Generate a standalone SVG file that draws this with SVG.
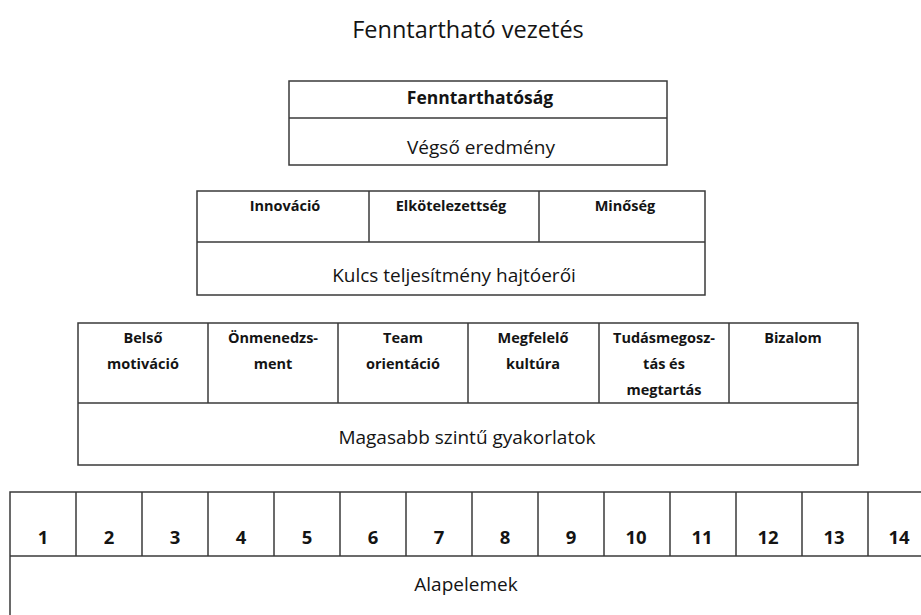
<svg xmlns="http://www.w3.org/2000/svg" width="921" height="615" viewBox="0 0 921 615">
<style>
  .box{fill:#ffffff;stroke:#3a3a3a;stroke-width:1.5}
  .ln{stroke:#3a3a3a;stroke-width:1.5;fill:none}
  text{font-family:"Open Sans","Noto Sans","Liberation Sans",sans-serif;fill:#141414;text-anchor:middle}
  .t{font-size:23.5px}
  .r{font-size:19px}
  .b{font-size:17.5px;font-weight:bold}
  .s{font-size:14.5px;font-weight:bold}
  .n{font-size:18.5px;font-weight:bold}
</style>
<rect width="921" height="615" fill="#ffffff"/>
<g id="title"><text class="t" x="468" y="38">Fenntartható vezetés</text></g>

<g id="fenntarthatosag">
  <rect class="box" x="289" y="81" width="378" height="84"/>
  <line class="ln" x1="289" y1="118" x2="667" y2="118"/>
  <text class="b" x="480" y="104">Fenntarthatóság</text>
  <text class="r" x="481" y="154">Végső eredmény</text>
</g>

<g id="kulcs">
  <rect class="box" x="197" y="191" width="508" height="104"/>
  <line class="ln" x1="197" y1="242" x2="705" y2="242"/>
  <line class="ln" x1="369" y1="191" x2="369" y2="242"/>
  <line class="ln" x1="539" y1="191" x2="539" y2="242"/>
  <text class="s" x="285" y="211">Innováció</text>
  <text class="s" x="451" y="211">Elkötelezettség</text>
  <text class="s" x="625" y="211">Minőség</text>
  <text class="r" x="454" y="282">Kulcs teljesítmény hajtóerői</text>
</g>

<g id="gyakorlatok">
  <rect class="box" x="78" y="323" width="780" height="142"/>
  <line class="ln" x1="78" y1="403" x2="858" y2="403"/>
  <line class="ln" x1="208" y1="323" x2="208" y2="403"/>
  <line class="ln" x1="338" y1="323" x2="338" y2="403"/>
  <line class="ln" x1="468" y1="323" x2="468" y2="403"/>
  <line class="ln" x1="599" y1="323" x2="599" y2="403"/>
  <line class="ln" x1="729" y1="323" x2="729" y2="403"/>
  <text class="s" x="143" y="343">Belső</text>
  <text class="s" x="143" y="369">motiváció</text>
  <text class="s" x="273" y="343">Önmenedzs-</text>
  <text class="s" x="273" y="369">ment</text>
  <text class="s" x="403" y="343">Team</text>
  <text class="s" x="403" y="369">orientáció</text>
  <text class="s" x="533" y="343">Megfelelő</text>
  <text class="s" x="533" y="369">kultúra</text>
  <text class="s" x="664" y="343">Tudásmegosz-</text>
  <text class="s" x="664" y="369">tás és</text>
  <text class="s" x="664" y="395">megtartás</text>
  <text class="s" x="793" y="343">Bizalom</text>
  <text class="r" x="467" y="444">Magasabb szintű gyakorlatok</text>
</g>

<g id="alapelemek">
  <rect class="box" x="10" y="492" width="930" height="140"/>
  <line class="ln" x1="10" y1="556" x2="921" y2="556"/>
  <line class="ln" x1="76" y1="492" x2="76" y2="556"/>
  <line class="ln" x1="142" y1="492" x2="142" y2="556"/>
  <line class="ln" x1="208" y1="492" x2="208" y2="556"/>
  <line class="ln" x1="274" y1="492" x2="274" y2="556"/>
  <line class="ln" x1="340" y1="492" x2="340" y2="556"/>
  <line class="ln" x1="406" y1="492" x2="406" y2="556"/>
  <line class="ln" x1="472" y1="492" x2="472" y2="556"/>
  <line class="ln" x1="538" y1="492" x2="538" y2="556"/>
  <line class="ln" x1="604" y1="492" x2="604" y2="556"/>
  <line class="ln" x1="670" y1="492" x2="670" y2="556"/>
  <line class="ln" x1="736" y1="492" x2="736" y2="556"/>
  <line class="ln" x1="802" y1="492" x2="802" y2="556"/>
  <line class="ln" x1="868" y1="492" x2="868" y2="556"/>
  <text class="n" x="43" y="544">1</text>
  <text class="n" x="109" y="544">2</text>
  <text class="n" x="175" y="544">3</text>
  <text class="n" x="241" y="544">4</text>
  <text class="n" x="307" y="544">5</text>
  <text class="n" x="373" y="544">6</text>
  <text class="n" x="439" y="544">7</text>
  <text class="n" x="505" y="544">8</text>
  <text class="n" x="571" y="544">9</text>
  <text class="n" x="636" y="544">10</text>
  <text class="n" x="702" y="544">11</text>
  <text class="n" x="768" y="544">12</text>
  <text class="n" x="834" y="544">13</text>
  <text class="n" x="899" y="544">14</text>
  <text class="r" x="466" y="591">Alapelemek</text>
</g>
</svg>
